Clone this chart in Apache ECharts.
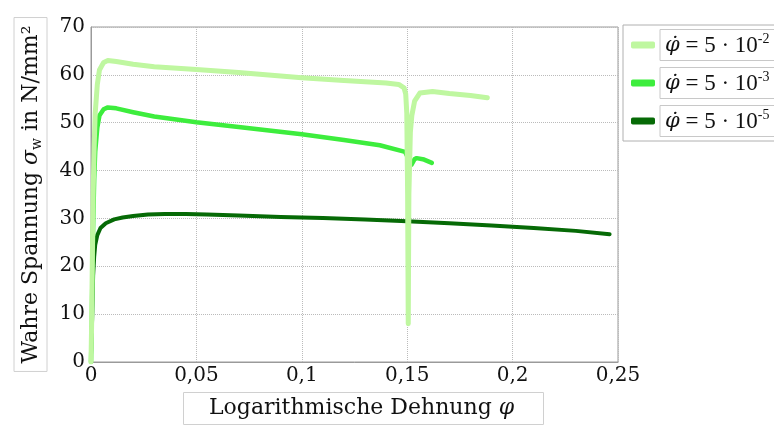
<!DOCTYPE html>
<html>
<head>
<meta charset="utf-8">
<script src="https://cdn.jsdelivr.net/npm/echarts@6/dist/echarts.min.js"></script>
<style>
html,body{margin:0;padding:0;background:#fff;}
#chart{width:774px;height:426px;}
</style>
</head>
<body>
<div id="chart"></div>
<script>
var strain52 = [0, 0.0003, 0.0006, 0.001, 0.0015, 0.002, 0.003, 0.004, 0.006, 0.008, 0.012, 0.02, 0.03, 0.05, 0.07, 0.1, 0.12, 0.14, 0.146, 0.1485, 0.1493, 0.1498, 0.1502, 0.1505, 0.1508, 0.1515, 0.1522, 0.1535, 0.156, 0.162, 0.17, 0.18, 0.188];
var stress52 = [0, 8, 20, 35, 45, 52, 58, 61, 62.6, 63, 62.8, 62.2, 61.7, 61.1, 60.5, 59.4, 58.8, 58.3, 58.0, 57.3, 56, 52, 35, 8, 35, 48, 51.5, 54.5, 56.2, 56.5, 56.1, 55.7, 55.2];

var strain53 = [0, 0.0003, 0.0006, 0.001, 0.0015, 0.002, 0.003, 0.004, 0.006, 0.008, 0.012, 0.02, 0.03, 0.05, 0.07, 0.1, 0.12, 0.137, 0.149, 0.152, 0.1535, 0.1545, 0.158, 0.1617];
var stress53 = [0, 6, 16, 28, 38, 44, 49, 51.5, 52.8, 53.2, 53, 52.2, 51.3, 50.1, 49.1, 47.6, 46.4, 45.3, 43.9, 41.2, 42.4, 42.6, 42.3, 41.6];

var strain55 = [0, 0.0003, 0.0007, 0.001, 0.0015, 0.002, 0.003, 0.0045, 0.007, 0.011, 0.015, 0.02, 0.027, 0.035, 0.045, 0.055, 0.07, 0.09, 0.11, 0.13, 0.15, 0.17, 0.19, 0.21, 0.23, 0.246];
var stress55 = [1.5, 5, 12, 18, 22, 24.5, 26.5, 28, 29, 29.8, 30.2, 30.5, 30.8, 30.9, 30.9, 30.8, 30.6, 30.3, 30.1, 29.8, 29.4, 29.0, 28.5, 28.0, 27.4, 26.7];

var seriesNames = ['{p|φ̇} = 5 · 10{s|-2}', '{p|φ̇} = 5 · 10{s|-3}', '{p|φ̇} = 5 · 10{s|-5}'];
var seriesColors = ['#bff7a0', '#3ded3d', '#066a06'];

function pairs(xs, ys) {
    var out = [];
    for (var i = 0; i < xs.length; i++) out.push([xs[i], ys[i]]);
    return out;
}

var serif = 'DejaVu Serif';
var legendFont = 'Liberation Serif';
var chart = echarts.init(document.getElementById('chart'));

function lineSeries(idx, data, width, z) {
    return {
        name: seriesNames[idx],
        type: 'line',
        data: data,
        showSymbol: false,
        z: z,
        color: seriesColors[idx],
        lineStyle: {width: width, color: seriesColors[idx], cap: 'round', join: 'round'}
    };
}

chart.setOption({
    animation: false,
    title: {
        text: 'Logarithmische Dehnung {i|φ}',
        left: 183,
        top: 392,
        padding: [5, 30, 6, 26],
        borderColor: '#d0d0d0',
        borderWidth: 1,
        textStyle: {
            fontFamily: serif, fontSize: 22, fontWeight: 'normal', color: '#111',
            rich: {i: {fontFamily: serif, fontSize: 22, fontStyle: 'italic', color: '#111'}}
        }
    },
    grid: {left: 91, right: 156, top: 27, bottom: 64, show: true, borderColor: '#9a9a9a', borderWidth: 1},
    legend: {
        data: seriesNames,
        orient: 'vertical',
        left: 623,
        top: 25,
        padding: [4, 0, 4, 8],
        itemGap: 6,
        itemWidth: 24,
        itemHeight: 7,
        icon: 'roundRect',
        selectedMode: false,
        borderColor: '#b0b0b0',
        borderWidth: 1,
        textStyle: {
            fontFamily: legendFont, fontSize: 23, color: '#111',
            borderColor: '#c8c8c8', borderWidth: 1,
            padding: [3, 30, 2, 5], lineHeight: 26,
            rich: {
                p: {fontFamily: serif, fontSize: 21, fontStyle: 'italic', color: '#111', lineHeight: 26},
                s: {fontFamily: legendFont, fontSize: 14, color: '#111', verticalAlign: 'top', lineHeight: 18}
            }
        }
    },
    xAxis: {
        type: 'value',
        min: 0, max: 0.25, interval: 0.05,
        axisLine: {lineStyle: {color: '#9a9a9a'}},
        axisTick: {show: false},
        axisLabel: {
            fontFamily: serif, fontSize: 20, color: '#111', margin: 4,
            formatter: function (v) { return String(+v.toFixed(2)).replace('.', ','); }
        },
        splitLine: {lineStyle: {type: 'dotted', color: '#bbb'}}
    },
    yAxis: {
        type: 'value',
        min: 0, max: 70, interval: 10,
        axisLine: {show: true, lineStyle: {color: '#9a9a9a'}},
        axisTick: {show: false},
        axisLabel: {fontFamily: serif, fontSize: 20, color: '#111', margin: 6},
        splitLine: {lineStyle: {type: 'dotted', color: '#bbb'}},
        name: 'Wahre Spannung {i|σ}{sub|w} in N/mm²',
        nameLocation: 'middle',
        nameRotate: 90,
        nameGap: 44,
        nameTextStyle: {
            fontFamily: serif, fontSize: 22, color: '#111',
            borderColor: '#d0d0d0', borderWidth: 1,
            padding: [4, 8, 3, 8], lineHeight: 26,
            rich: {
                i: {fontFamily: serif, fontSize: 22, fontStyle: 'italic', color: '#111', lineHeight: 26},
                sub: {fontFamily: serif, fontSize: 14, color: '#111', verticalAlign: 'bottom', lineHeight: 26}
            }
        }
    },
    series: [
        lineSeries(2, pairs(strain55, stress55), 4, 2),
        lineSeries(1, pairs(strain53, stress53), 4.5, 3),
        lineSeries(0, pairs(strain52, stress52), 5, 4)
    ]
});
</script>
</body>
</html>
